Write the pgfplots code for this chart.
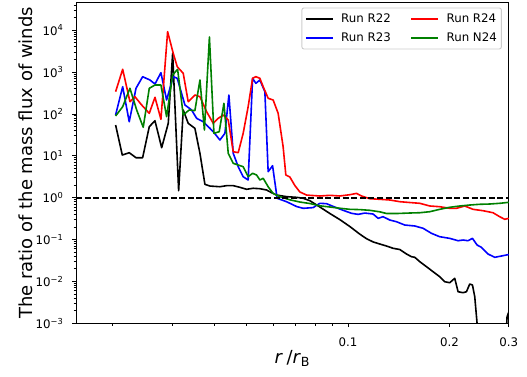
\documentclass[border=0pt]{standalone}
\usepackage{fontspec}
\setmainfont{DejaVu Sans}
\usepackage{pgfplots}
\pgfplotsset{compat=1.18}
\definecolor{mplgreen}{rgb}{0,0.5,0}
\begin{document}
\begin{tikzpicture}
\begin{axis}[
  scale only axis, width=432.8pt, height=320.8pt,
  xmode=log, ymode=log,
  xmin=0.01556, xmax=0.3, ymin=1e-3, ymax=4.6e4,
  xtick={0.1,0.2,0.3}, xticklabels={0.1,0.2,0.3},
  minor xtick={0.02,0.03,0.04,0.05,0.06,0.07,0.08,0.09},
  ytick={1e-3,1e-2,1e-1,1,10,100,1000,10000},
  yticklabels={10\textsuperscript{−3},10\textsuperscript{−2},10\textsuperscript{−1},10\textsuperscript{0},10\textsuperscript{1},10\textsuperscript{2},10\textsuperscript{3},10\textsuperscript{4}},
  minor ytick={2e-3,3e-3,4e-3,5e-3,6e-3,7e-3,8e-3,9e-3,0.02,0.03,0.04,0.05,0.06,0.07,0.08,0.09,0.2,0.3,0.4,0.5,0.6,0.7,0.8,0.9,2,3,4,5,6,7,8,9,20,30,40,50,60,70,80,90,200,300,400,500,600,700,800,900,2000,3000,4000,5000,6000,7000,8000,9000,20000,30000,40000},
  tick align=outside, tick pos=left,
  major tick length=3.9pt, minor tick length=2.3pt,
  every tick/.append style={black, line width=0.9pt},
  axis line style={line width=0.9pt},
  ticklabel style={font=\fontsize{11.8}{13}\selectfont},
  xticklabel style={anchor=north, inner sep=0pt, yshift=-10pt},
  yticklabel style={anchor=east, inner sep=0pt, xshift=-8.5pt},
  xlabel={\textit{r}\hspace{0.2em}/\textit{r}\textsubscript{B}},
  ylabel={The ratio of the mass flux of winds},
  xlabel style={font=\fontsize{18}{21}\selectfont, at={(axis description cs:0.5,0)}, anchor=base, yshift=-40pt},
  ylabel style={font=\fontsize{18}{21}\selectfont, at={([xshift=-43pt]axis description cs:0,0.5)}, anchor=base},
  legend columns=2,
  legend cell align=left,
  legend image code/.code={\draw[#1, line width=1.8pt, line cap=butt] (0pt,0pt) -- (27pt,0pt);},
  legend style={font=\fontsize{11.8}{13}\selectfont, draw=black!20, line width=0.9pt, rounded corners=2pt, fill=white,
    at={(axis description cs:1,1)}, anchor=north east, xshift=-7pt, yshift=-5pt,
    inner xsep=3pt, inner ysep=4.5pt, row sep=5.5pt,
    nodes={inner sep=1.5pt},
    /tikz/every odd column/.append style={column sep=6pt},
    /tikz/every even column/.append style={column sep=18pt}},
  every axis plot/.append style={line width=1.6pt, line join=round},
]
\addplot[black, forget plot] coordinates {
(0.02040,54.6) (0.02135,10.47) (0.02239,11.89) (0.02345,9.03) (0.02454,9.03) (0.02568,49.7) (0.02670,69.1) (0.02795,15.65) (0.02924,59.9) (0.03013,2816) (0.03139,1.47) (0.03239,124.5) (0.03351,59.9) (0.03508,45.5) (0.03631,11.5) (0.03757,2.09) (0.03888,1.90) (0.04163,1.83) (0.04358,1.94) (0.04559,1.94) (0.04772,1.77) (0.04995,1.59) (0.05225,1.68) (0.05470,1.64) (0.05726,1.53) (0.05925,1.32) (0.06131,1.16) (0.06566,1.06) (0.07030,1.02) (0.07354,0.97) (0.07697,0.85) (0.08244,0.60) (0.08826,0.42) (0.09449,0.30) (0.1012,0.205) (0.1083,0.135) (0.1134,0.105) (0.1186,0.088) (0.1242,0.0783) (0.1300,0.0702) (0.1360,0.0619) (0.1424,0.0579) (0.1491,0.0452) (0.1542,0.0390) (0.1578,0.0377) (0.1633,0.0296) (0.1709,0.0225) (0.1788,0.01707) (0.1871,0.01297) (0.1936,0.00985) (0.2003,0.00932) (0.2073,0.01188) (0.2121,0.00568) (0.2194,0.00538) (0.2246,0.00568) (0.2297,0.00868) (0.2340,0.00821) (0.2377,0.00432) (0.2415,0.001) (0.2443,0.0001) (0.2918,0.0001) (0.2965,0.00144) (0.3,0.00186)
};
\addplot[blue, forget plot] coordinates {
(0.02040,94.6) (0.02141,448) (0.02239,65.4) (0.02345,410.8) (0.02454,777) (0.02580,648) (0.02670,520) (0.02781,969) (0.02891,215.8) (0.03025,777) (0.03109,712) (0.03277,163.9) (0.03430,124.5) (0.03550,78.8) (0.03713,65.4) (0.03888,45.5) (0.03977,37.7) (0.04163,23.9) (0.04307,34.6) (0.04426,284) (0.04559,11.5) (0.04717,5.50) (0.04880,3.18) (0.05049,2.65) (0.05204,712) (0.05322,540) (0.05470,648) (0.05660,340.7) (0.05789,4.18) (0.05966,5.81) (0.06156,0.968) (0.06566,0.803) (0.07030,0.616) (0.07354,0.558) (0.07873,0.58) (0.08244,0.735) (0.08630,0.72) (0.09027,0.62) (0.09665,0.50) (0.1024,0.424) (0.1071,0.40) (0.1121,0.43) (0.1186,0.408) (0.1228,0.322) (0.1270,0.352) (0.1330,0.293) (0.1392,0.267) (0.1473,0.2228) (0.1578,0.211) (0.1670,0.186) (0.1768,0.141) (0.1871,0.117) (0.2003,0.107) (0.2121,0.0939) (0.2194,0.0976) (0.2270,0.0939) (0.2340,0.107) (0.2415,0.0742) (0.2488,0.0653) (0.2603,0.0452) (0.2725,0.0377) (0.2852,0.0405) (0.3,0.0440)
};
\addplot[red, forget plot] coordinates {
(0.02040,340.7) (0.02141,1168) (0.02250,196.6) (0.02328,258.7) (0.02438,163.9) (0.02568,103.8) (0.02670,250.3) (0.02781,74.6) (0.02911,9239) (0.03025,2816) (0.03109,1347) (0.03239,937) (0.03351,196.6) (0.03508,284) (0.03631,258.7) (0.03801,113.4) (0.03977,59.9) (0.04115,78.8) (0.04258,94.6) (0.04406,71.8) (0.04559,12.56) (0.04717,11.89) (0.04880,34.6) (0.05049,149.2) (0.05204,712) (0.05322,777) (0.05470,712) (0.05595,448) (0.05789,237) (0.05990,215.8) (0.06198,103.8) (0.06413,16.54) (0.06533,3.49) (0.06714,3.12) (0.06947,1.96) (0.07190,1.37) (0.07525,1.16) (0.07697,1.14) (0.08244,1.10) (0.08826,1.14) (0.09449,1.10) (0.1012,1.18) (0.1059,1.27) (0.1096,1.10) (0.1160,0.947) (0.1242,0.916) (0.1330,0.882) (0.1424,0.803) (0.1524,0.768) (0.1633,0.735) (0.1748,0.634) (0.1871,0.610) (0.2003,0.558) (0.2097,0.558) (0.2220,0.634) (0.2349,0.528) (0.2516,0.489) (0.2693,0.438) (0.2819,0.352) (0.2918,0.305) (0.3,0.322)
};
\addplot[mplgreen, forget plot] coordinates {
(0.02040,89.5) (0.02141,149.2) (0.02250,410.8) (0.02356,124.5) (0.02464,48.1) (0.02568,410.8) (0.02670,492) (0.02781,492) (0.02891,86.1) (0.03013,854) (0.03117,1168) (0.03239,94.6) (0.03374,124.5) (0.03508,120) (0.03631,648) (0.03744,41.4) (0.03875,6902) (0.03996,34.6) (0.04143,37.7) (0.04278,180) (0.04406,11.5) (0.04559,6.63) (0.04717,6.04) (0.04880,5.50) (0.05049,3.18) (0.05204,3.83) (0.05348,3.49) (0.05470,2.65) (0.05595,2.91) (0.05789,1.83) (0.05990,1.27) (0.06270,1.06) (0.06714,0.891) (0.07190,0.789) (0.07697,0.727) (0.08244,0.64) (0.08826,0.60) (0.09449,0.56) (0.1012,0.528) (0.1083,0.52) (0.1160,0.50) (0.1242,0.46) (0.1300,0.42) (0.1392,0.419) (0.1524,0.431) (0.1633,0.438) (0.1748,0.463) (0.1871,0.528) (0.2003,0.590) (0.2145,0.634) (0.2297,0.669) (0.2459,0.696) (0.2633,0.707) (0.2819,0.735) (0.3,0.776)
};
\addplot[black, dash pattern=on 6pt off 2.6pt, forget plot] coordinates {(0.01556,1) (0.3,1)};
\addlegendimage{black}\addlegendentry{Run R22}
\addlegendimage{red}\addlegendentry{Run R24}
\addlegendimage{blue}\addlegendentry{Run R23}
\addlegendimage{mplgreen}\addlegendentry{Run N24}
\end{axis}
\pgfresetboundingbox
\path[use as bounding box] (-76pt,-52.7pt) rectangle (451pt,323.3pt);
\end{tikzpicture}
\end{document}
